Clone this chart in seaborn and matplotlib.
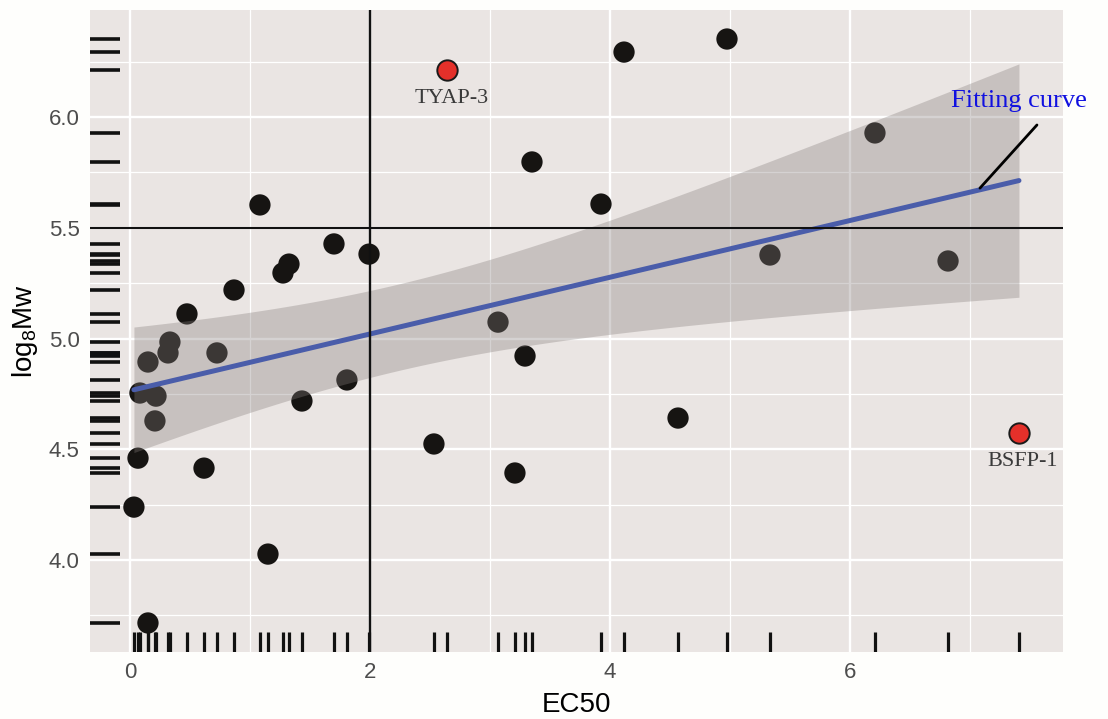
import numpy as np
import pandas as pd
import matplotlib
matplotlib.use("Agg")
import matplotlib.pyplot as plt
import seaborn as sns

# ---- data ----
ec50 = [0.033, 0.067, 0.083, 0.15, 0.15, 0.217, 0.208, 0.317, 0.333, 0.475,
        0.617, 0.725, 0.867, 1.083, 1.15, 1.275, 1.325, 1.433, 1.70, 1.808,
        1.992, 2.533, 3.067, 3.208, 3.292, 3.35, 3.925, 4.117, 4.567, 4.975,
        5.333, 6.208, 6.817]
logmw = [4.239, 4.460, 4.754, 4.894, 3.716, 4.740, 4.628, 4.935, 4.984, 5.111,
         4.415, 4.935, 5.219, 5.603, 4.027, 5.296, 5.336, 4.718, 5.427, 4.813,
         5.381, 4.524, 5.074, 4.393, 4.921, 5.797, 5.607, 6.293, 4.641, 6.352,
         5.377, 5.928, 5.350]
hl_names = ["TYAP-3", "BSFP-1"]
hl_ec50 = [2.642, 7.408]
hl_logmw = [6.212, 4.573]

x_ticks = [0, 2, 4, 6]
y_ticks = [4.0, 4.5, 5.0, 5.5, 6.0]
y_tick_labels = ["4.0", "4.5", "5.0", "5.5", "6.0"]
x_minor = [1, 3, 5, 7]
y_minor = [3.75, 4.25, 4.75, 5.25, 5.75, 6.25]
ref_x = 2
ref_y = 5.5
fit_text = "Fitting curve"
fit_text_xy = (7.41, 6.072)
fit_ptr_from = (7.558, 5.964)
fit_ptr_to = (7.083, 5.679)

all_x = ec50 + hl_ec50
all_y = logmw + hl_logmw
df = pd.DataFrame({"EC50": all_x, "logMw": all_y})

sns.set_theme(style="darkgrid")
plt.rcParams["font.family"] = ["Liberation Sans", "DejaVu Sans"]
plt.rcParams["mathtext.fontset"] = "custom"
plt.rcParams["mathtext.rm"] = "Liberation Sans"
plt.rcParams["mathtext.it"] = "Liberation Sans"

fig, ax = plt.subplots(figsize=(11.08, 7.19), dpi=100)
fig.patch.set_facecolor("#FEFEFC")
ax.set_facecolor("#EAE5E3")
fig.subplots_adjust(left=90 / 1108, right=1063 / 1108, top=1 - 10 / 719, bottom=1 - 652 / 719)

# points (under the confidence band, like ggplot)
sns.scatterplot(x=ec50, y=logmw, color="#161412", s=235, edgecolor="none", zorder=3, ax=ax, legend=False)

# regression line (seaborn) + analytic 95% confidence band (as in ggplot's geom_smooth)
sns.regplot(data=df, x="EC50", y="logMw", scatter=False, ci=None, color="#4A5DAA",
            line_kws=dict(color="#4A5DAA", lw=3.6, zorder=5), ax=ax)
xa = np.asarray(all_x)
ya = np.asarray(all_y)
n = len(xa)
b1, b0 = np.polyfit(xa, ya, 1)
resid = ya - (b0 + b1 * xa)
s_err = np.sqrt(np.sum(resid ** 2) / (n - 2))
sxx = np.sum((xa - xa.mean()) ** 2)
try:
    from scipy import stats
    tval = stats.t.ppf(0.975, n - 2)
except Exception:
    tval = 2.0345
xg = np.linspace(xa.min(), xa.max(), 200)
yg = b0 + b1 * xg
half = tval * s_err * np.sqrt(1 / n + (xg - xa.mean()) ** 2 / sxx)
ax.fill_between(xg, yg - half, yg + half, color="#857D7B", alpha=0.34, lw=0, zorder=4)

# rugs
sns.rugplot(x=all_x, height=0.031, color="#111111", linewidth=2.3, ax=ax, zorder=2)
sns.rugplot(y=all_y, height=0.031, color="#111111", linewidth=2.6, ax=ax, zorder=2)

# reference lines
ax.axvline(ref_x, color="#111111", lw=1.7, zorder=6)
ax.axhline(ref_y, color="#111111", lw=1.5, zorder=6)

# highlighted points
sns.scatterplot(x=hl_ec50, y=hl_logmw, color="#E4302A", s=215, edgecolor="#1A1A1A",
                linewidth=1.4, zorder=7, ax=ax, legend=False)
for name, xv, yv in zip(hl_names, hl_ec50, hl_logmw):
    ax.annotate(name, xy=(xv, yv), xytext=(3, -20.5), textcoords="offset points",
                ha="center", va="center", fontsize=16, color="#3A3A3A",
                family=["Liberation Serif", "DejaVu Serif"], zorder=8)

# fitting curve annotation
ax.annotate("", xy=fit_ptr_to, xytext=fit_ptr_from, annotation_clip=False,
            arrowprops=dict(arrowstyle="-", lw=2.0, color="black", shrinkA=0, shrinkB=0), zorder=8)
ax.text(fit_text_xy[0], fit_text_xy[1], fit_text, ha="center", va="center", fontsize=19,
        color="#1010E0", family=["Liberation Serif", "DejaVu Serif"], clip_on=False, zorder=8)

ax.set_xlim(-0.333, 7.775)
ax.set_ylim(3.585, 6.483)
ax.set_xticks(x_ticks)
ax.set_xticklabels([str(v) for v in x_ticks])
ax.set_yticks(y_ticks)
ax.set_yticklabels(y_tick_labels)
ax.set_xticks(x_minor, minor=True)
ax.set_yticks(y_minor, minor=True)
ax.grid(which="major", color="white", lw=1.7)
ax.grid(which="minor", color="white", lw=0.9)
ax.tick_params(which="major", length=4.5, width=1.3, color="#333333", labelsize=16,
               labelcolor="#4D4D4D", pad=3, direction="out")
ax.tick_params(which="minor", length=0)
for s in ax.spines.values():
    s.set_visible(False)

ax.set_xlabel("EC50", fontsize=20, color="black", labelpad=6)
ax.set_ylabel(r"$\mathregular{log_8Mw}$", fontsize=20, color="black", labelpad=6)

fig.savefig("out.png", dpi=100, facecolor=fig.get_facecolor())
